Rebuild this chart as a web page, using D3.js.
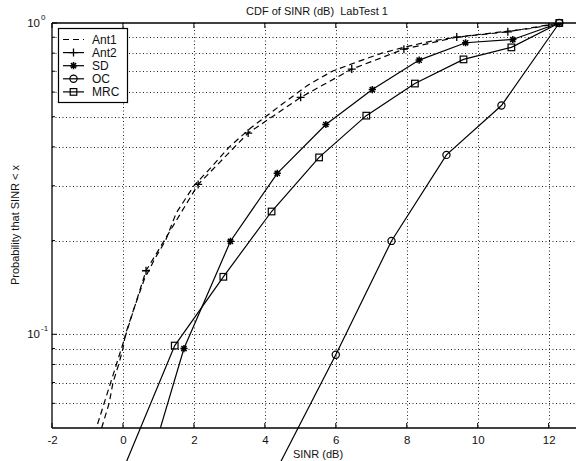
<!DOCTYPE html>
<html><head><meta charset="utf-8">
<script src="https://cdn.jsdelivr.net/npm/d3@7"></script>
<style>
html,body{margin:0;padding:0;background:#fff;overflow:hidden}
text{font-family:"Liberation Sans",Arial,Helvetica,sans-serif;fill:#111;white-space:pre}
</style></head>
<body><svg id="c" width="576" height="461"></svg>
<script>
// ---- data ----
const titleText = "CDF of SINR (dB)  LabTest 1";
const xLabelText = "SINR (dB)";
const yLabelText = "Probability that SINR < x";
const xTicks = [-2, 0, 2, 4, 6, 8, 10, 12];
const yGrid = [0.06, 0.07, 0.08, 0.09, 0.1, 0.2, 0.3, 0.4, 0.5, 0.6, 0.7, 0.8, 0.9, 1];
const yMajor = [1, 0.1];
const yMajorExp = ["0", "-1"];
const seriesNames = ["Ant1", "Ant2", "SD", "OC", "MRC"];

const ant1X = [-0.6, -0.39, -0.28, -0.12, 0.0, 0.07, 0.3, 0.6, 0.9, 1.2, 1.5, 2.0, 2.5, 3.0, 3.6, 4.5, 5.2, 5.9, 6.6, 7.3, 8.0, 8.7, 9.4, 10.1, 10.8, 11.5, 12.3];
const ant1Y = [0.05, 0.06, 0.07, 0.08, 0.09, 0.10, 0.12, 0.15, 0.175, 0.20, 0.245, 0.30, 0.345, 0.40, 0.46, 0.55, 0.63, 0.70, 0.75, 0.80, 0.84, 0.875, 0.90, 0.92, 0.94, 0.96, 1.0];
const ant2X = [-0.8, 0.65, 2.12, 3.53, 5.01, 6.45, 7.92, 9.41, 10.85, 12.3];
const ant2Y = [0.048, 0.16, 0.303, 0.443, 0.577, 0.711, 0.824, 0.901, 0.937, 1.0];
const sdX = [0.40, 1.72, 3.03, 4.35, 5.72, 7.03, 8.35, 9.66, 10.99, 12.3];
const sdY = [0.028, 0.090, 0.199, 0.329, 0.472, 0.611, 0.760, 0.864, 0.885, 1.0];
const ocX = [4.45, 6.0, 7.57, 9.12, 10.67, 12.3];
const ocY = [0.039, 0.086, 0.1995, 0.377, 0.543, 1.0];
const mrcX = [0.10, 1.46, 2.83, 4.19, 5.53, 6.86, 8.23, 9.60, 10.95, 12.3];
const mrcY = [0.039, 0.092, 0.153, 0.248, 0.370, 0.504, 0.639, 0.764, 0.835, 1.0];

// ---- layout ----
const L = 52, T = 23, B = 428, R = 577;
const svg = d3.select("#c");
const x = d3.scaleLinear().domain([-2, 12.8]).range([L, R]);
const y = d3.scaleLog().domain([0.05, 1]).range([B, T]);

const zip = (a, b) => a.map((v, i) => [v, b[i]]);
const series = [
  {name: "Ant1", data: zip(ant1X, ant1Y), dash: "6,4", marker: null, clip: true, markers: false},
  {name: "Ant2", data: zip(ant2X, ant2Y), dash: "6,4", marker: "plus", clip: true, markers: true},
  {name: "SD", data: zip(sdX, sdY), dash: null, marker: "star", clip: true, markers: true},
  {name: "OC", data: zip(ocX, ocY), dash: null, marker: "circle", clip: false, markers: true},
  {name: "MRC", data: zip(mrcX, mrcY), dash: null, marker: "square", clip: false, markers: true}
];

svg.append("defs").append("clipPath").attr("id", "pc")
  .append("rect").attr("x", L).attr("y", T).attr("width", R - L + 10).attr("height", B - T);

// grid
const grid = svg.append("g").attr("stroke", "#000").attr("stroke-width", 1).attr("stroke-dasharray", "1,2.5").attr("opacity", 0.85);
grid.selectAll("line.gx").data(xTicks.filter(d => d > -2)).enter().append("line")
  .attr("x1", d => Math.round(x(d)) + 0.5).attr("x2", d => Math.round(x(d)) + 0.5)
  .attr("y1", T).attr("y2", B);
grid.selectAll("line.gy").data(yGrid.filter(d => d < 1)).enter().append("line")
  .attr("y1", d => Math.round(y(d)) + 0.5).attr("y2", d => Math.round(y(d)) + 0.5)
  .attr("x1", L).attr("x2", R);

// axes box (left, bottom, top)
const ax = svg.append("g").attr("stroke", "#000").attr("stroke-width", 1.3).attr("fill", "none");
ax.append("line").attr("x1", L).attr("x2", L).attr("y1", T).attr("y2", B);
ax.append("line").attr("x1", L).attr("x2", R).attr("y1", B).attr("y2", B);
ax.append("line").attr("x1", L).attr("x2", R).attr("y1", T).attr("y2", T);

// x ticks (bottom & top)
const xa = d3.axisBottom(x).tickValues(xTicks).tickSize(0).tickPadding(8).tickFormat(d3.format("d"));
const gxa = svg.append("g").attr("transform", `translate(0,${B})`).call(xa);
gxa.select(".domain").remove();
gxa.selectAll("text").attr("font-size", 11.5).attr("font-family", "Liberation Sans, Arial, sans-serif")
  .attr("fill", "#111").text(d => d < 0 ? "-" + Math.abs(d) : d);
const tk = svg.append("g").attr("stroke", "#000").attr("stroke-width", 1);
tk.selectAll("line.tb").data(xTicks).enter().append("line")
  .attr("x1", d => x(d)).attr("x2", d => x(d)).attr("y1", B).attr("y2", B - 5);
tk.selectAll("line.tt").data(xTicks).enter().append("line")
  .attr("x1", d => x(d)).attr("x2", d => x(d)).attr("y1", T).attr("y2", T + 5);
tk.selectAll("line.ty").data(yGrid).enter().append("line")
  .attr("x1", L).attr("x2", d => L + (yMajor.includes(d) ? 5 : 3))
  .attr("y1", d => y(d)).attr("y2", d => y(d));

// y tick labels 10^n
yMajor.forEach((v, i) => {
  svg.append("text").attr("x", 40).attr("y", y(v) + 4).attr("text-anchor", "end")
    .attr("font-size", 11.5).text("10");
  svg.append("text").attr("x", 41).attr("y", y(v) - 3).attr("font-size", 8).text(yMajorExp[i]);
});

// title & labels
svg.append("text").attr("x", 317).attr("y", 15).attr("text-anchor", "middle").attr("font-size", 11).text(titleText);
svg.append("text").attr("x", 318).attr("y", 458).attr("text-anchor", "middle").attr("font-size", 11).text(xLabelText);
svg.append("text").attr("transform", "translate(19,225) rotate(-90)").attr("text-anchor", "middle")
  .attr("font-size", 11).text(yLabelText);

// markers
function drawMarker(g, type, cx, cy) {
  if (type === "plus") {
    g.append("path").attr("d", `M${cx-4},${cy}H${cx+4}M${cx},${cy-4}V${cy+4}`).attr("stroke", "#000").attr("stroke-width", 1.3);
  } else if (type === "star") {
    const r = 3.6, r2 = r * 0.72;
    g.append("path").attr("d", `M${cx-r},${cy}H${cx+r}M${cx},${cy-r}V${cy+r}M${cx-r2},${cy-r2}L${cx+r2},${cy+r2}M${cx-r2},${cy+r2}L${cx+r2},${cy-r2}`)
      .attr("stroke", "#000").attr("stroke-width", 1.5);
  } else if (type === "circle") {
    g.append("circle").attr("cx", cx).attr("cy", cy).attr("r", 3.6).attr("fill", "none").attr("stroke", "#000").attr("stroke-width", 1.2);
  } else if (type === "square") {
    g.append("rect").attr("x", cx - 3.3).attr("y", cy - 3.3).attr("width", 6.6).attr("height", 6.6)
      .attr("fill", "none").attr("stroke", "#000").attr("stroke-width", 1.2);
  }
}

const line = d3.line().x(d => x(d[0])).y(d => y(d[1]));
series.forEach(s => {
  const g = svg.append("g");
  if (s.clip) g.attr("clip-path", "url(#pc)");
  g.append("path").attr("d", line(s.data)).attr("fill", "none").attr("stroke", "#000")
    .attr("stroke-width", 1.2).attr("stroke-dasharray", s.dash);
  if (s.markers) s.data.filter(d => d[1] >= 0.05).forEach(d => drawMarker(g, s.marker, x(d[0]), y(d[1])));
});

// legend
const lg = svg.append("g");
lg.append("rect").attr("x", 58.5).attr("y", 28.5).attr("width", 69).attr("height", 74)
  .attr("fill", "#fff").attr("stroke", "#000").attr("stroke-width", 1.2);
series.forEach((s, i) => {
  const cy = 39.5 + i * 13.1;
  lg.append("line").attr("x1", 63).attr("x2", 84).attr("y1", cy).attr("y2", cy)
    .attr("stroke", "#000").attr("stroke-width", 1.2).attr("stroke-dasharray", s.name === "Ant1" ? "6,4" : null);
  if (s.marker) drawMarker(lg, s.marker, 73.5, cy);
  lg.append("text").attr("x", 92).attr("y", cy + 4.2).attr("font-size", 12).text(seriesNames[i]);
});
</script></body></html>
